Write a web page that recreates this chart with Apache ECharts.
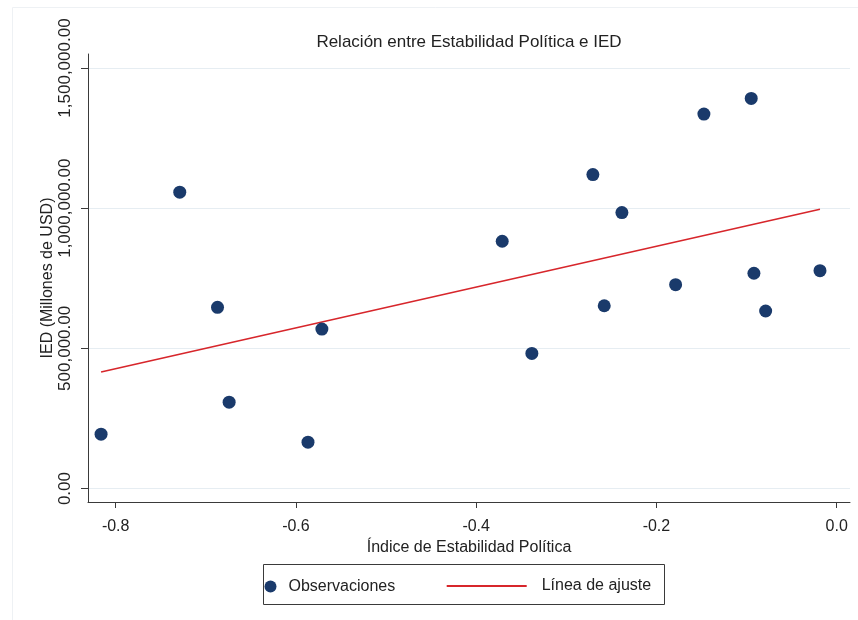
<!DOCTYPE html>
<html>
<head>
<meta charset="utf-8">
<script src="https://cdn.jsdelivr.net/npm/echarts@6/dist/echarts.min.js"></script>
<style>
  html, body { margin: 0; padding: 0; background: #fff; }
  #chart { width: 858px; height: 620px; }
</style>
</head>
<body>
<div id="chart"></div>
<script>
// Observaciones (índice de estabilidad política vs IED en millones de USD)
const obsX = [-0.8162, -0.7289, -0.6870, -0.6741, -0.5866, -0.5712, -0.3711, -0.3382, -0.2705,
              -0.2579, -0.2383, -0.1787, -0.1473, -0.0948, -0.0918, -0.0788, -0.0185];
const obsY = [193900, 1057100, 646400, 308200, 165400, 568900, 882100, 482100, 1120000,
              652100, 984300, 727100, 1335700, 1391400, 767900, 633200, 777100];

// línea de ajuste (extremos)
const fitX = [-0.8162, -0.0185];
const fitY = [415400, 996400];

const xTicks = [-0.8, -0.6, -0.4, -0.2, 0];
const yTicks = [0, 500000, 1000000, 1500000];

const font = "'Liberation Sans', Arial, sans-serif";
const textColor = "#222";
const axisColor = "#3a3a3a";

const chart = echarts.init(document.getElementById("chart"), null, { renderer: "canvas" });

const option = {
  animation: false,
  backgroundColor: "#fff",
  textStyle: { fontFamily: font },
  title: {
    text: "Relación entre Estabilidad Política e IED",
    left: 469,
    top: 34,
    padding: 0,
    textAlign: "center",
    textStyle: { fontSize: 17, fontWeight: "normal", color: textColor, fontFamily: font },
  },
  grid: { left: 88, right: 8, top: 54, bottom: 118 },
  xAxis: {
    type: "value",
    min: -0.8307,
    max: 0.0148,
    name: "Índice de Estabilidad Política",
    nameLocation: "middle",
    nameGap: 31,
    nameTextStyle: { fontSize: 16, color: textColor, fontFamily: font },
    axisLine: { show: true, onZero: false, lineStyle: { color: axisColor, width: 1 } },
    axisTick: { show: true, inside: false, length: 6, customValues: xTicks, lineStyle: { color: axisColor } },
    axisLabel: {
      customValues: xTicks,
      margin: 17,
      fontSize: 16,
      color: textColor,
      fontFamily: font,
      formatter: (v) => Number(v).toFixed(1),
    },
    splitLine: { show: false },
  },
  yAxis: {
    type: "value",
    min: -48000,
    max: 1550000,
    name: "IED (Millones de USD)",
    nameLocation: "middle",
    nameGap: 32,
    nameMoveOverlap: false,
    nameTextStyle: { fontSize: 16, color: textColor, fontFamily: font },
    axisLine: { show: true, onZero: false, lineStyle: { color: axisColor, width: 1 } },
    axisTick: { show: true, inside: false, length: 7, customValues: yTicks, lineStyle: { color: axisColor } },
    axisLabel: {
      customValues: yTicks,
      rotate: 90,
      margin: 14,
      fontSize: 17,
      color: textColor,
      fontFamily: font,
      formatter: (v) => Number(v).toLocaleString("en-US", { minimumFractionDigits: 2, maximumFractionDigits: 2 }),
    },
    splitLine: { show: true, lineStyle: { color: "#e6edf2", width: 1 } },
  },
  legend: [
    {
      data: [{ name: "Observaciones", icon: "circle" }],
      left: 264.5,
      top: 578.5,
      padding: 0,
      itemWidth: 26,
      itemHeight: 12,
      textStyle: { fontSize: 16, color: textColor, fontFamily: font },
    },
    {
      data: [{ name: "Línea de ajuste", icon: "rect" }],
      left: 446.7,
      top: 578,
      padding: 0,
      itemWidth: 80,
      itemHeight: 2,
      formatter: (name) => "{t|" + name + "}",
      textStyle: {
        fontSize: 16,
        color: textColor,
        fontFamily: font,
        rich: { t: { fontSize: 16, color: textColor, fontFamily: font, padding: [0, 0, 0, 10] } },
      },
    },
  ],
  graphic: [
    {
      type: "rect",
      silent: true,
      shape: { x: 12.5, y: 7.5, width: 900, height: 700 },
      style: { fill: "none", stroke: "#eef1f4", lineWidth: 1 },
    },
    {
      type: "rect",
      silent: true,
      shape: { x: 263.5, y: 564.5, width: 401, height: 40 },
      style: { fill: "none", stroke: axisColor, lineWidth: 1 },
    },
  ],
  series: [
    {
      name: "Observaciones",
      type: "scatter",
      symbol: "circle",
      symbolSize: 13,
      itemStyle: { color: "#1a3a6b", opacity: 1 },
      data: obsX.map((x, i) => [x, obsY[i]]),
      z: 3,
    },
    {
      name: "Línea de ajuste",
      type: "line",
      showSymbol: false,
      symbol: "none",
      lineStyle: { color: "#d7262b", width: 1.6 },
      itemStyle: { color: "#d7262b" },
      data: fitX.map((x, i) => [x, fitY[i]]),
      z: 2,
    },
  ],
};

option && chart.setOption(option);
</script>
</body>
</html>
